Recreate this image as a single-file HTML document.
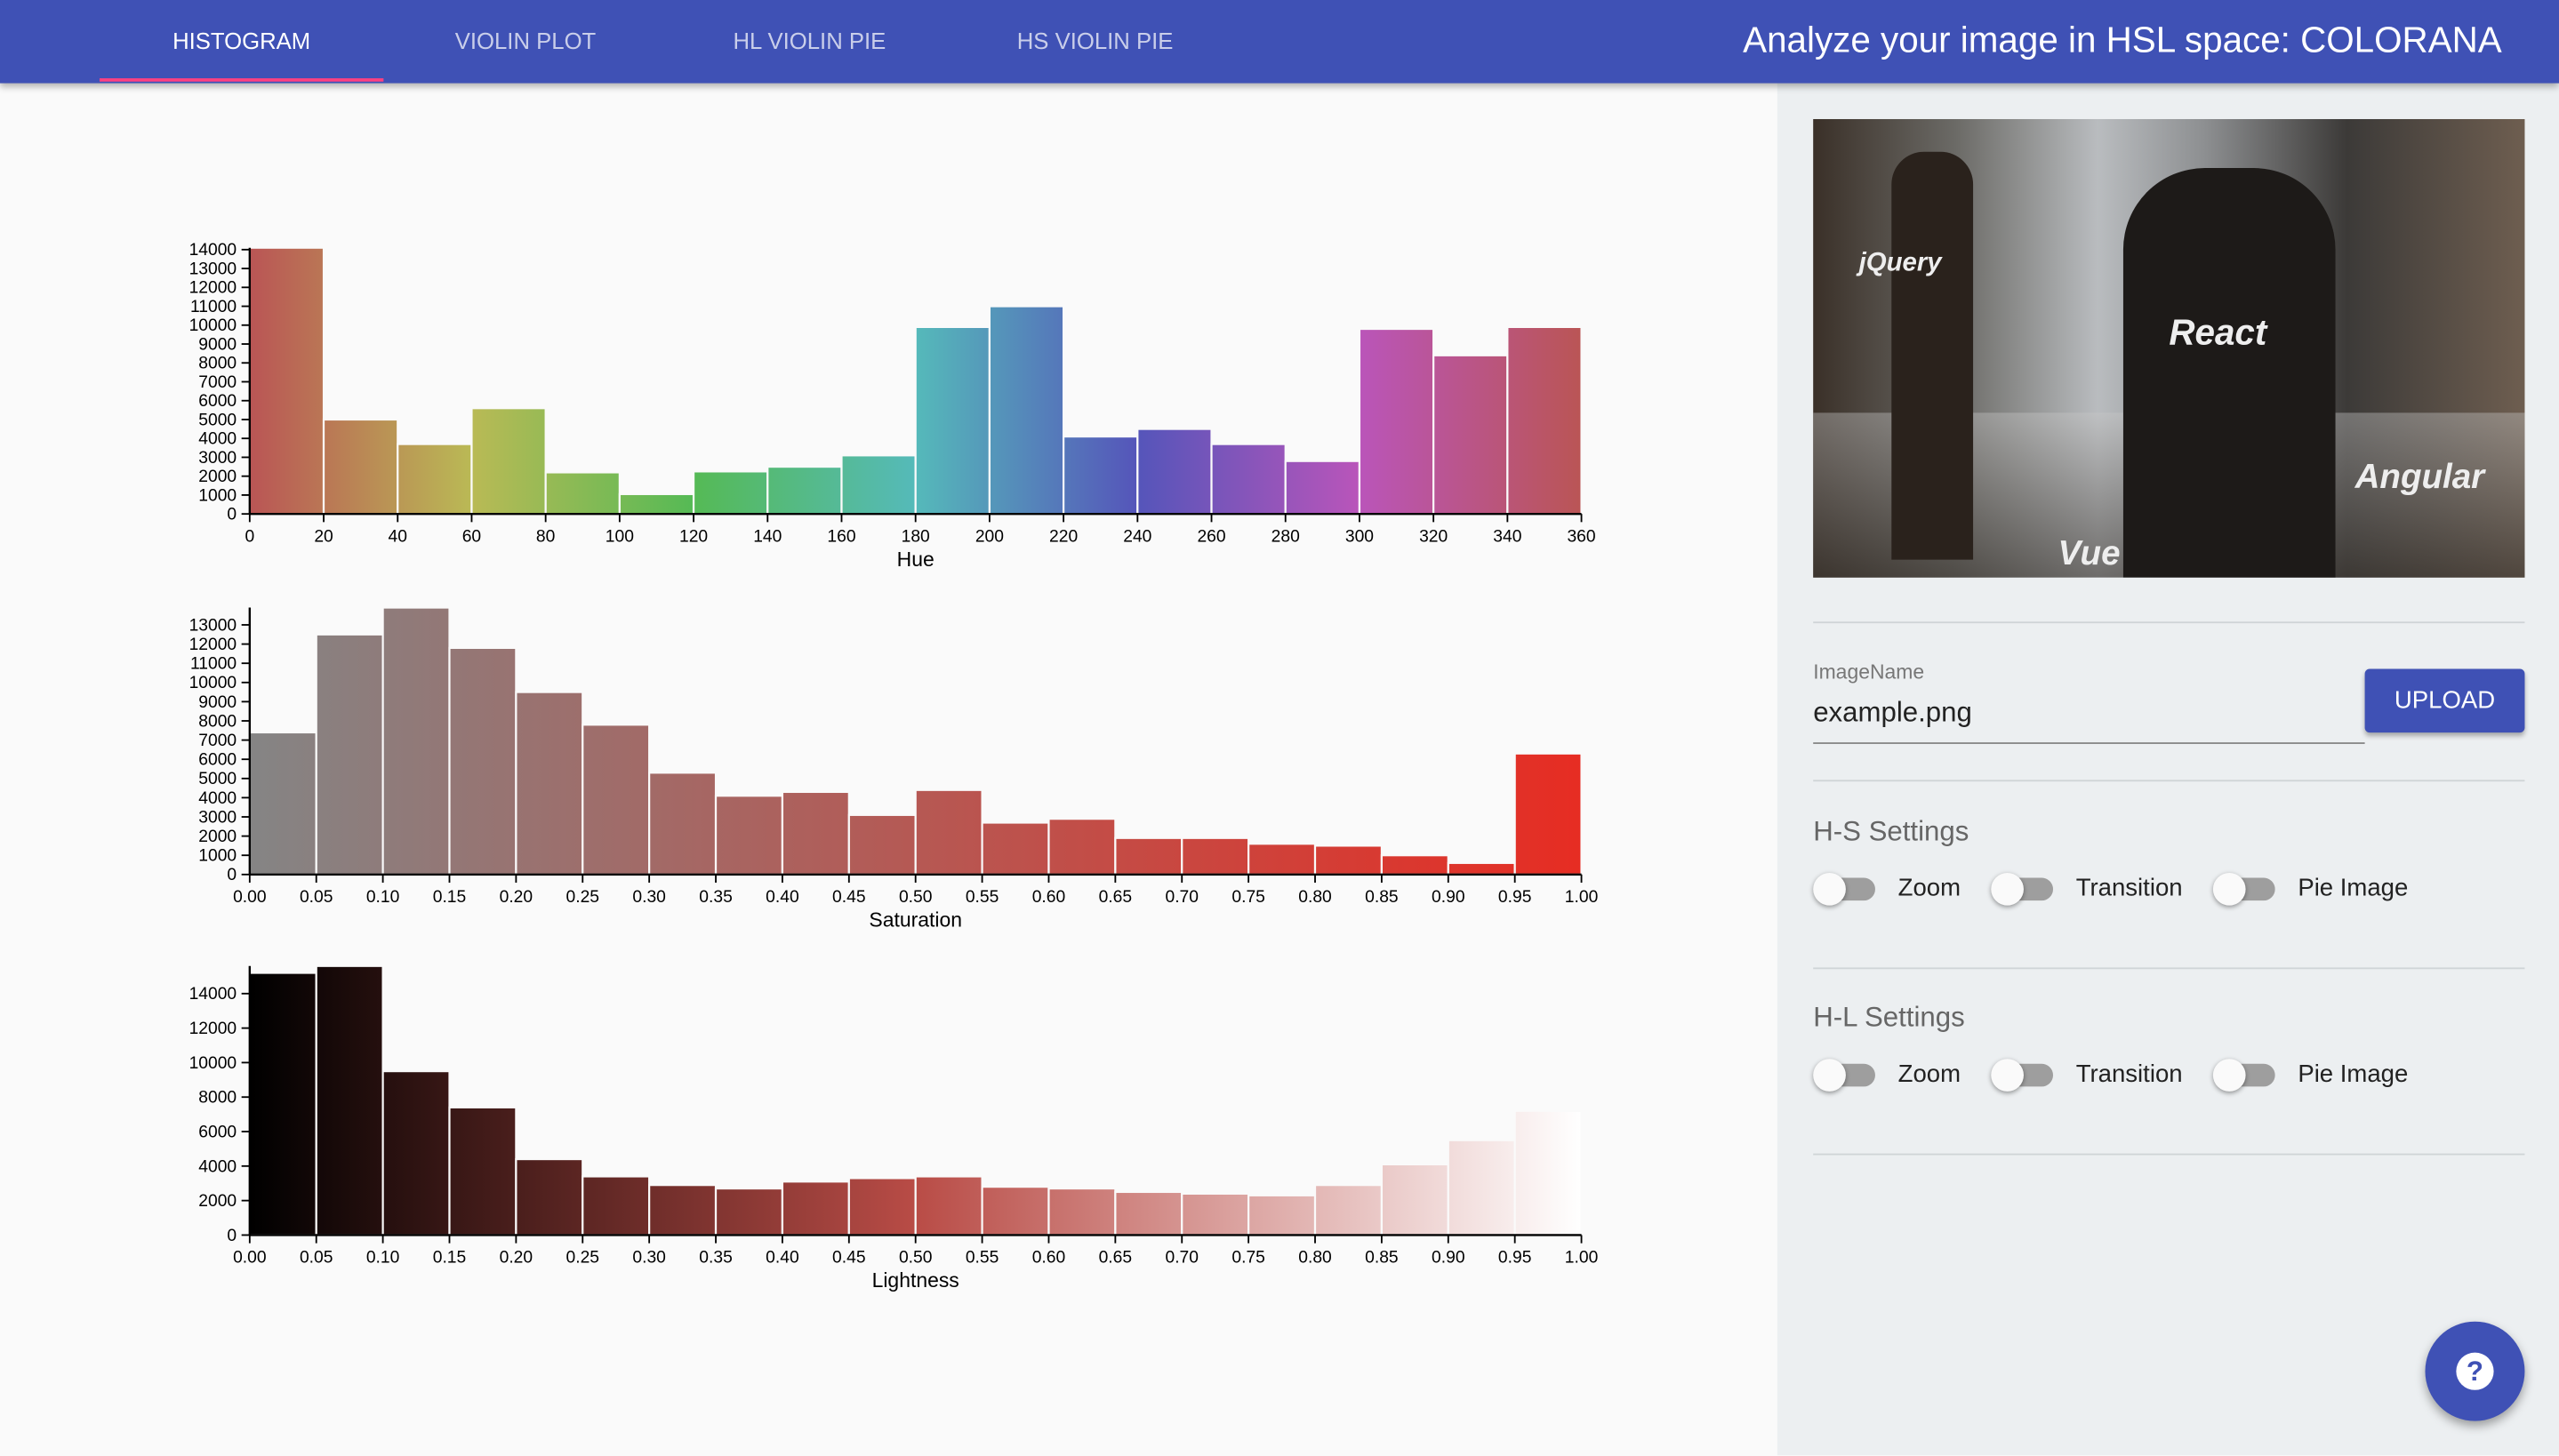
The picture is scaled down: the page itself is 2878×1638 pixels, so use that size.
<!DOCTYPE html>
<html><head><meta charset="utf-8">
<style>
html,body{margin:0;padding:0;width:2878px;height:1638px;overflow:hidden;background:#fafafa;font-family:"Liberation Sans",sans-serif}
#wrap{position:absolute;left:0;top:0;width:1568px;height:892px;transform:scale(1.83546);transform-origin:0 0;background:#fafafa}
#hdr{position:absolute;left:0;top:0;width:1568px;height:51px;background:#3f51b5;box-shadow:0 2px 4px rgba(0,0,0,.3);z-index:2}
.tab{position:absolute;top:17px;font-size:14px;color:rgba(255,255,255,.72);text-align:center;width:174px}
#title{position:absolute;right:35px;top:12px;font-size:22px;color:#fff}
#side{position:absolute;left:1089px;top:51px;width:479px;height:841px;background:#eceff1}
.hr{position:absolute;left:22px;width:436px;height:1px;background:#cfd4d7}
.lbl{position:absolute;color:#666;font-size:17px}
.tog{position:absolute;width:36px;height:14px;border-radius:7px;background:#9e9e9e}
.tog::after{content:"";position:absolute;left:-2px;top:-3px;width:20px;height:20px;border-radius:50%;background:#fafafa;box-shadow:0 1px 3px rgba(0,0,0,.4)}
.tl{position:absolute;font-size:15px;color:#222}
</style></head><body>
<div id="wrap">
<div id="hdr">
 <div class="tab" style="left:61px;color:#fff">HISTOGRAM</div>
 <div style="position:absolute;left:61px;top:48px;width:174px;height:2px;background:#ff4081"></div>
 <div class="tab" style="left:235px">VIOLIN PLOT</div>
 <div class="tab" style="left:409px">HL VIOLIN PIE</div>
 <div class="tab" style="left:584px">HS VIOLIN PIE</div>
 <div id="title">Analyze your image in HSL space: COLORANA</div>
</div>
<svg id="charts" width="1089" height="892" style="position:absolute;left:0;top:0"></svg>
<div id="side">
 <div style="position:absolute;left:22px;top:22px;width:436px;height:281px;overflow:hidden;background:linear-gradient(90deg,#3a3028 0%,#6b6a66 20%,#b9bcbf 40%,#8d8f91 55%,#3c3a38 75%,#6e5e50 100%)">
  <div style="position:absolute;left:0;top:180px;width:436px;height:101px;background:linear-gradient(180deg,rgba(200,200,200,.4),rgba(60,55,50,.6))"></div>
  <div style="position:absolute;left:48px;top:20px;width:50px;height:250px;background:#2a221c;border-radius:20px 20px 0 0"></div>
  <div style="position:absolute;left:190px;top:30px;width:130px;height:251px;background:#1d1a18;border-radius:50px 50px 0 0"></div>
  <div style="position:absolute;left:28px;top:80px;color:#eee;font-size:16px;font-style:italic;font-weight:bold">jQuery</div>
  <div style="position:absolute;left:218px;top:118px;color:#eee;font-size:22px;font-style:italic;font-weight:bold">React</div>
  <div style="position:absolute;left:332px;top:208px;color:#eee;font-size:21px;font-style:italic;font-weight:bold">Angular</div>
  <div style="position:absolute;left:150px;top:255px;color:#eee;font-size:21px;font-style:italic;font-weight:bold">Vue</div>
 </div>
 <div class="hr" style="top:330px"></div>
 <div style="position:absolute;left:22px;top:354px;font-size:12.5px;color:#777">ImageName</div>
 <div style="position:absolute;left:22px;top:376px;font-size:17px;color:#222">example.png</div>
 <div style="position:absolute;left:22px;top:404px;width:338px;height:1px;background:#888"></div>
 <div style="position:absolute;left:360px;top:359px;width:98px;height:39px;background:#3f51b5;border-radius:3px;color:#fff;font-size:15px;text-align:center;line-height:39px;box-shadow:0 2px 3px rgba(0,0,0,.3)">UPLOAD</div>
 <div class="hr" style="top:427px"></div>
 <div class="lbl" style="left:22px;top:449px">H-S Settings</div>
 <div class="tog" style="left:24px;top:487px"></div><div class="tl" style="left:74px;top:485px">Zoom</div>
 <div class="tog" style="left:133px;top:487px"></div><div class="tl" style="left:183px;top:485px">Transition</div>
 <div class="tog" style="left:269px;top:487px"></div><div class="tl" style="left:319px;top:485px">Pie Image</div>
 <div class="hr" style="top:542px"></div>
 <div class="lbl" style="left:22px;top:563px">H-L Settings</div>
 <div class="tog" style="left:24px;top:601px"></div><div class="tl" style="left:74px;top:599px">Zoom</div>
 <div class="tog" style="left:133px;top:601px"></div><div class="tl" style="left:183px;top:599px">Transition</div>
 <div class="tog" style="left:269px;top:601px"></div><div class="tl" style="left:319px;top:599px">Pie Image</div>
 <div class="hr" style="top:656px"></div>
 <div style="position:absolute;left:397px;top:759px;width:61px;height:61px;border-radius:50%;background:#3f51b5;box-shadow:0 3px 6px rgba(0,0,0,.35)">
  <div style="position:absolute;left:19px;top:19px;width:23px;height:23px;border-radius:50%;background:#fff;color:#3f51b5;font-weight:bold;font-size:17px;text-align:center;line-height:23px">?</div>
 </div>
</div>
</div>
<script>
const hueValues=[14100,5000,3700,5600,2200,1050,2250,2500,3100,9900,11000,4100,4500,3700,2800,9800,8400,9900];
const hueTicks=[0,20,40,60,80,100,120,140,160,180,200,220,240,260,280,300,320,340,360];
const hueYTicks=[0,1000,2000,3000,4000,5000,6000,7000,8000,9000,10000,11000,12000,13000,14000];
const satValues=[7400,12500,13900,11800,9500,7800,5300,4100,4300,3100,4400,2700,2900,1900,1900,1600,1500,1000,600,6300];
const satYTicks=[0,1000,2000,3000,4000,5000,6000,7000,8000,9000,10000,11000,12000,13000];
const lightValues=[15200,15600,9500,7400,4400,3400,2900,2700,3100,3300,3400,2800,2700,2500,2400,2300,2900,4100,5500,7200];
const lightYTicks=[0,2000,4000,6000,8000,10000,12000,14000];
const unitTicks=[0,0.05,0.1,0.15,0.2,0.25,0.3,0.35,0.4,0.45,0.5,0.55,0.6,0.65,0.7,0.75,0.8,0.85,0.9,0.95,1];
const NS='http://www.w3.org/2000/svg';
const svg=document.getElementById('charts');
const defs=document.createElementNS(NS,'defs');svg.appendChild(defs);
let gid=0;
function mk(t,a,p){const e=document.createElementNS(NS,t);for(const k in a)e.setAttribute(k,a[k]);(p||svg).appendChild(e);return e;}
function chart(o){
 const g=mk('g',{});
 
 
 const x=v=>o.x0+(v-o.dmin)/(o.dmax-o.dmin)*(o.x1-o.x0);
 const y=v=>o.y0-v/o.ref*(o.y0-o.yref);
 const n=o.values.length,step=(o.dmax-o.dmin)/n;
 o.values.forEach((v,i)=>{
  const a=o.dmin+i*step,b=a+step;
  const id='g'+(gid++);
  const lg=mk('linearGradient',{id:id,x1:0,x2:1,y1:0,y2:0},defs);
  mk('stop',{offset:0,'stop-color':o.color(a)},lg);mk('stop',{offset:1,'stop-color':o.color(b)},lg);
  const r=mk('rect',{x:x(a),y:y(v),width:x(b)-x(a),height:o.y0-y(v),fill:'url(#'+id+')',stroke:'#fafafa','stroke-width':1.2},g);
  
  
 });
 const top=y(Math.max(...o.values));
 mk('line',{x1:o.x0,x2:o.x0,y1:top,y2:o.y0,stroke:'#000','stroke-width':1.3},g);
 mk('line',{x1:o.x0,x2:o.x1,y1:o.y0,y2:o.y0,stroke:'#000','stroke-width':1.3},g);
 o.yticks.forEach(t=>{const yy=y(t);
  mk('line',{x1:o.x0-5,x2:o.x0,y1:yy,y2:yy,stroke:'#000'},g);
  const tx=mk('text',{x:o.x0-8,y:yy+3.5,'text-anchor':'end','font-size':10.5,fill:'#000'},g);tx.textContent=t;});
 o.xticks.forEach(t=>{const xx=x(t);
  mk('line',{x1:xx,x2:xx,y1:o.y0,y2:o.y0+5,stroke:'#000'},g);
  const tx=mk('text',{x:xx,y:o.y0+17,'text-anchor':'middle','font-size':10.5,fill:'#000'},g);tx.textContent=o.fmt(t);});
 const lab=mk('text',{x:(o.x0+o.x1)/2,y:o.y0+32,'text-anchor':'middle','font-size':12.5,fill:'#000'},g);lab.textContent=o.label;
}
chart({name:'hue-histogram',values:hueValues,xticks:hueTicks,yticks:hueYTicks,dmin:0,dmax:360,x0:153,x1:969,y0:315,yref:153,ref:14000,label:'Hue',fmt:t=>t,color:h=>`hsl(${h},42%,53%)`});
chart({name:'saturation-histogram',values:satValues,xticks:unitTicks,yticks:satYTicks,dmin:0,dmax:1,x0:153,x1:969,y0:536,yref:383,ref:13000,label:'Saturation',fmt:t=>t.toFixed(2),color:s=>`hsl(3,${s*80}%,52%)`});
chart({name:'lightness-histogram',values:lightValues,xticks:unitTicks,yticks:lightYTicks,dmin:0,dmax:1,x0:153,x1:969,y0:757,yref:609,ref:14000,label:'Lightness',fmt:t=>t.toFixed(2),color:l=>`hsl(3,45%,${l*100}%)`});
</script>
</body></html>
